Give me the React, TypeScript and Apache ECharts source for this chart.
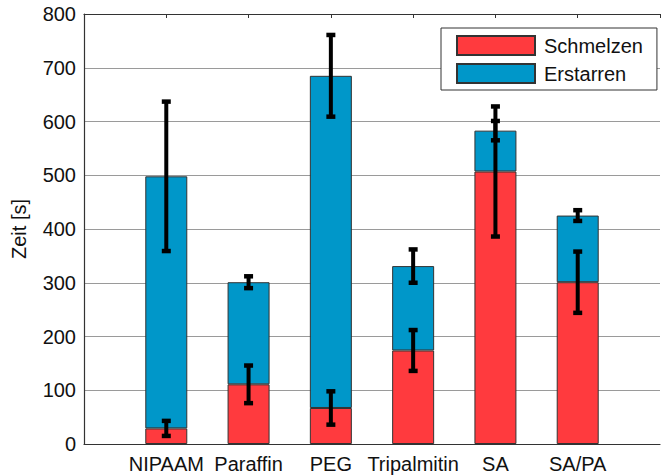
import React, { useEffect, useRef } from "react";
import * as echarts from "echarts";

// Materials on the x axis
const categories = ["NIPAAM", "Paraffin", "PEG", "Tripalmitin", "SA", "SA/PA"];
// Melting time (lower stacked segment) and its spread
const schmelzen = [29, 111, 67, 174, 507, 301];
const schmelzenErr = [14, 35, 31, 38, 121, 57];
// Solidification time (upper stacked segment) and its spread (around the total)
const erstarren = [469, 190, 618, 157, 76, 124];
const erstarrenErr = [139, 11, 76, 31, 18, 10];
// Y-axis ticks
const yTicks = [0, 100, 200, 300, 400, 500, 600, 700, 800];

const FONT = "'Liberation Sans', Arial, Helvetica, sans-serif";
const RED = "#ff3a3e";
const BLUE = "#0097c9";

export default function App() {
  const ref = useRef<HTMLDivElement>(null);

  useEffect(() => {
    if (!ref.current) return;
    const chart = echarts.init(ref.current, undefined, { renderer: "svg" });

    // x runs from 0 to 7 with the materials at 1..6, so pad both ends
    const axisCats = ["", ...categories, ""];
    const pad = (arr: number[]) => [null, ...arr, null];
    const totals = schmelzen.map((v, i) => v + erstarren[i]);
    const errData = [
      ...schmelzen.map((v, i) => [i + 1, v, schmelzenErr[i]]),
      ...totals.map((v, i) => [i + 1, v, erstarrenErr[i]]),
    ];

    const renderErr = (params: any, api: any) => {
      const x = api.value(0);
      const c = api.value(1);
      const e = api.value(2);
      const top = api.coord([x, c + e]);
      const bot = api.coord([x, c - e]);
      const capW = 9;
      const capH = 4.5;
      const style = { fill: "#000" };
      return {
        type: "group",
        children: [
          {
            type: "line",
            shape: { x1: top[0], y1: top[1], x2: bot[0], y2: bot[1] },
            style: { stroke: "#000", lineWidth: 4 },
          },
          {
            type: "rect",
            shape: { x: top[0] - capW / 2, y: top[1] - capH / 2, width: capW, height: capH },
            style,
          },
          {
            type: "rect",
            shape: { x: bot[0] - capW / 2, y: bot[1] - capH / 2, width: capW, height: capH },
            style,
          },
        ],
      };
    };

    chart.setOption({
      animation: false,
      backgroundColor: "#fff",
      textStyle: { fontFamily: FONT },
      grid: { left: 84, top: 14, width: 588, height: 430, containLabel: false },
      legend: {
        data: ["Schmelzen", "Erstarren"],
        orient: "vertical",
        left: 441,
        top: 28,
        icon: "rect",
        itemWidth: 78,
        itemHeight: 19,
        itemGap: 7,
        padding: [7, 14, 6, 15],
        backgroundColor: "#fff",
        borderColor: "#333",
        borderWidth: 1,
        selectedMode: false,
        textStyle: {
          fontFamily: FONT,
          fontSize: 20,
          color: "#111",
          padding: [0, 0, 0, 4],
        },
      },
      xAxis: [
        {
          type: "category",
          data: axisCats,
          boundaryGap: false,
          axisLine: { show: true, lineStyle: { color: "#333", width: 1.2 } },
          axisTick: { show: false },
          splitLine: { show: false },
          axisLabel: {
            fontFamily: FONT,
            fontSize: 20,
            color: "#111",
            margin: 10,
            interval: 0,
          },
        },
        {
          type: "category",
          data: axisCats,
          boundaryGap: false,
          position: "top",
          axisLine: { show: true, lineStyle: { color: "#333", width: 1.2 } },
          axisTick: { show: true, inside: true, length: 4, interval: 0, lineStyle: { color: "#333" } },
          splitLine: { show: false },
          axisLabel: { show: false },
        },
      ],
      yAxis: {
        type: "value",
        min: yTicks[0],
        max: yTicks[yTicks.length - 1],
        interval: 100,
        name: "Zeit [s]",
        nameLocation: "middle",
        nameGap: 55,
        nameTextStyle: { fontFamily: FONT, fontSize: 20, color: "#111" },
        axisLine: { show: true, lineStyle: { color: "#333", width: 1.2 } },
        axisTick: { show: false },
        splitLine: { show: true, lineStyle: { color: "#9a9a9a", width: 1 } },
        axisLabel: { fontFamily: FONT, fontSize: 20, color: "#111", margin: 8 },
      },
      series: [
        {
          name: "Schmelzen",
          type: "bar",
          stack: "zeit",
          xAxisIndex: 0,
          barWidth: 42,
          data: pad(schmelzen),
          itemStyle: { color: RED, borderColor: "#333", borderWidth: 1 },
        },
        {
          name: "Erstarren",
          type: "bar",
          stack: "zeit",
          xAxisIndex: 0,
          barWidth: 42,
          data: pad(erstarren),
          itemStyle: { color: BLUE, borderColor: "#333", borderWidth: 1 },
        },
        {
          name: "Fehler",
          type: "custom",
          xAxisIndex: 0,
          renderItem: renderErr,
          encode: { x: 0, y: 1 },
          data: errData,
          z: 10,
        },
      ],
    });

    return () => chart.dispose();
  }, []);

  return (
    <div
      ref={ref}
      style={{ position: "fixed", left: 0, top: 0, width: 663, height: 476 }}
    />
  );
}
